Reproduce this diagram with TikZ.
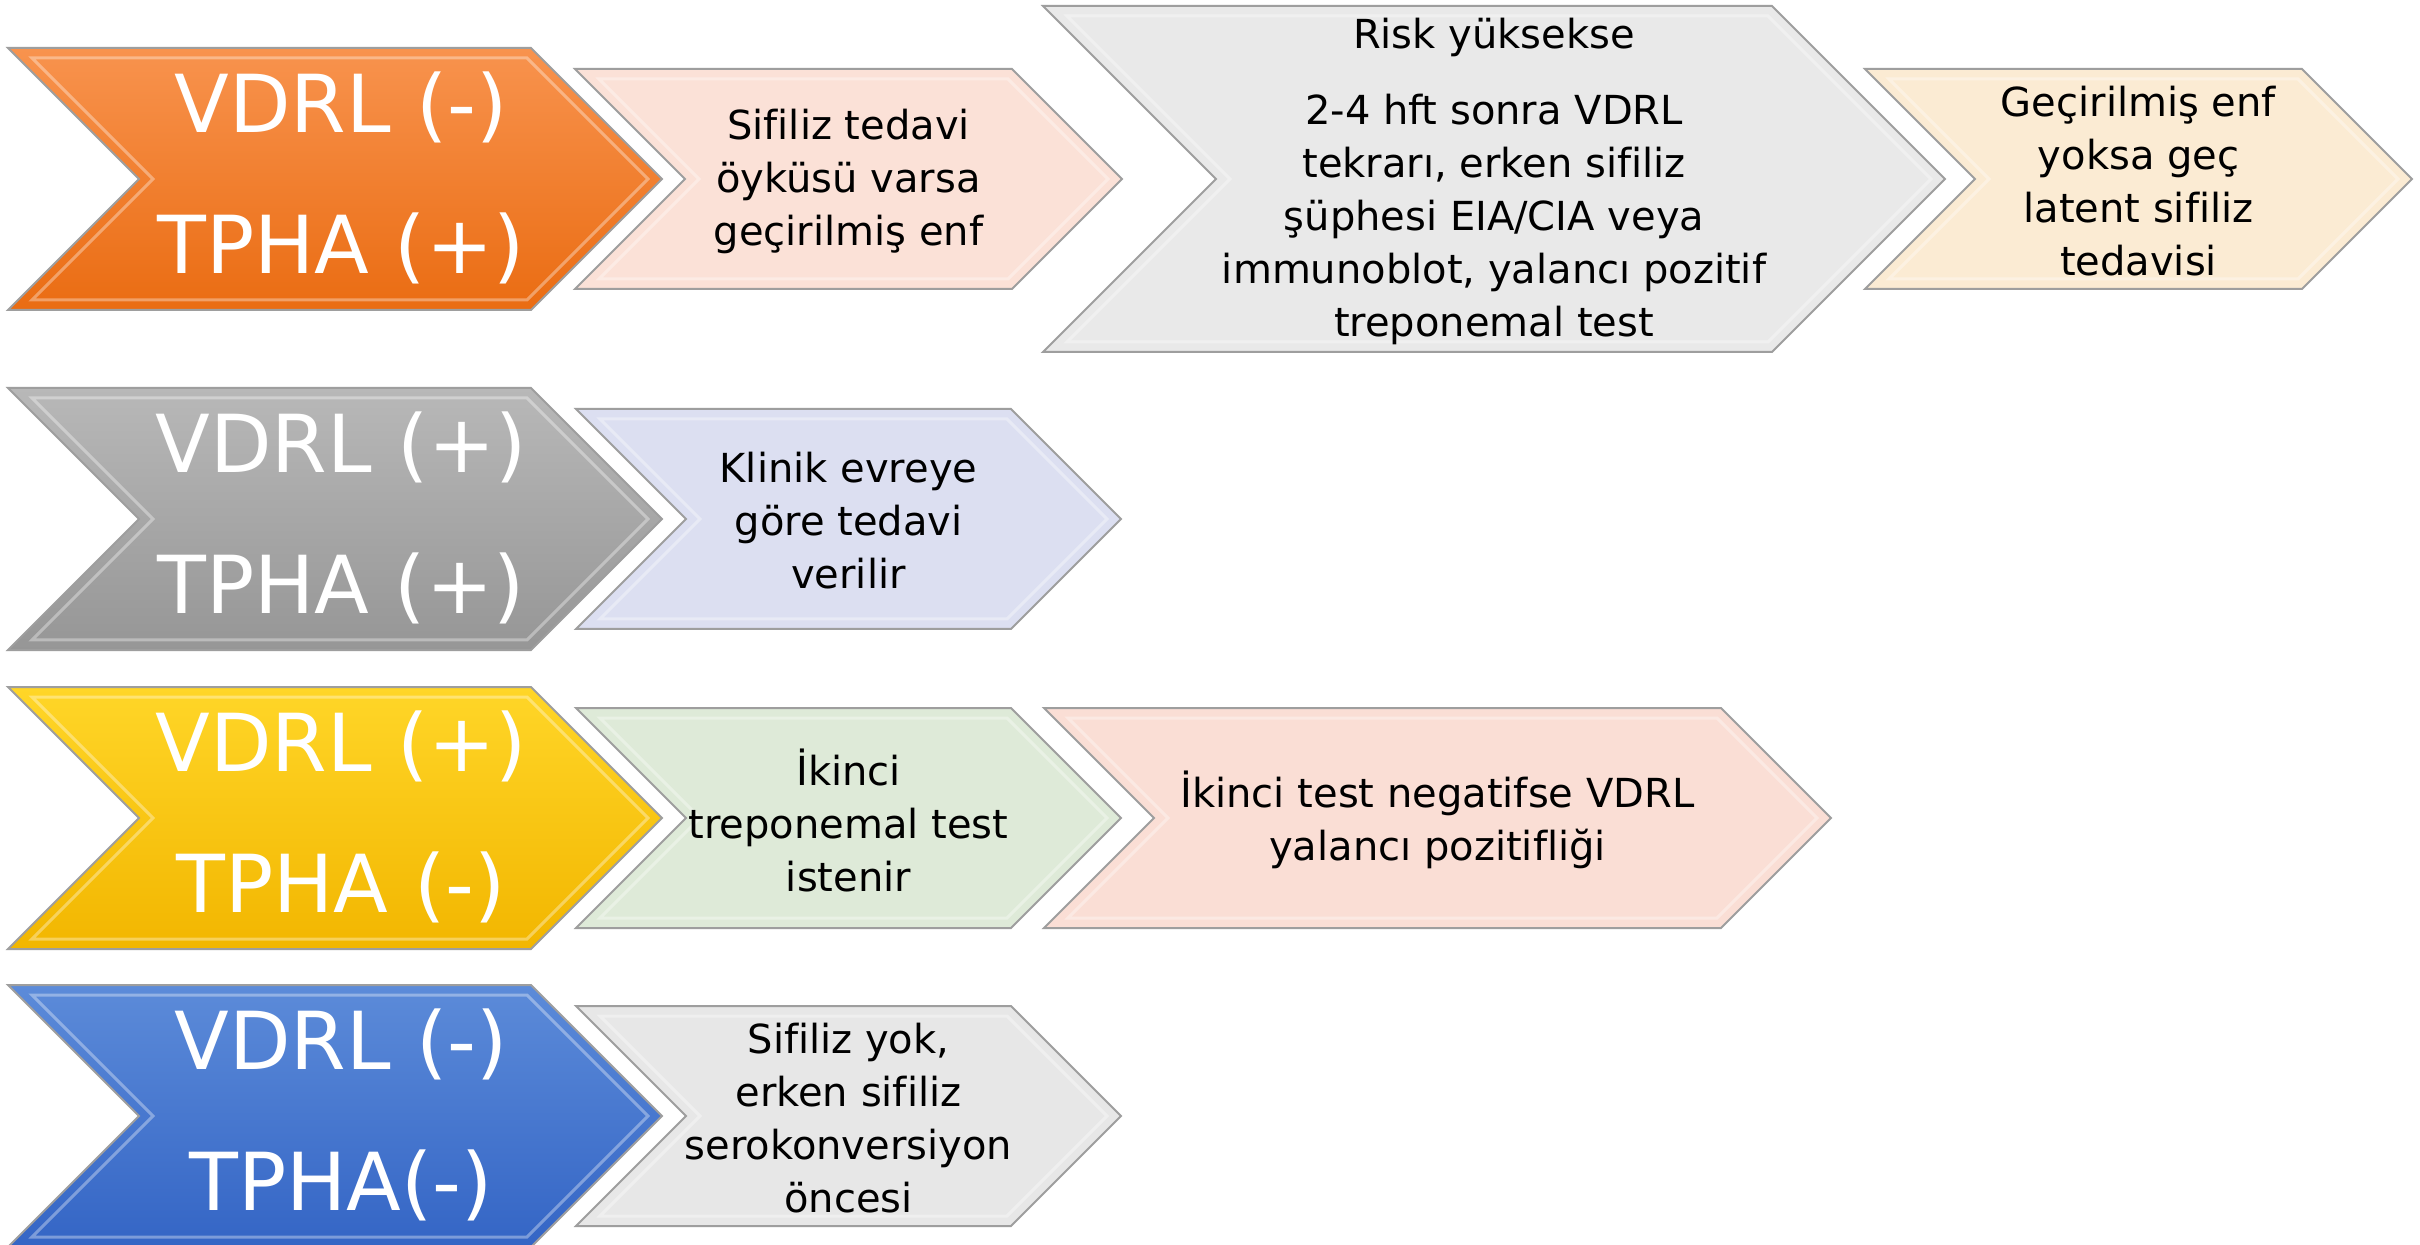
\documentclass[tikz,border=0pt]{standalone}
\usepackage{fontspec}
\setmainfont{DejaVu Sans}[Ligatures={NoCommon}]
\definecolor{orT}{RGB}{248,147,78}
\definecolor{orB}{RGB}{234,108,18}
\definecolor{pinkA}{RGB}{251,225,215}
\definecolor{greyL}{RGB}{233,233,233}
\definecolor{beige}{RGB}{251,235,211}
\definecolor{gdT}{RGB}{184,184,184}
\definecolor{gdB}{RGB}{150,150,150}
\definecolor{lav}{RGB}{220,223,241}
\definecolor{yeT}{RGB}{255,214,40}
\definecolor{yeB}{RGB}{242,182,0}
\definecolor{grn}{RGB}{222,234,216}
\definecolor{pinkB}{RGB}{250,222,213}
\definecolor{blT}{RGB}{92,139,217}
\definecolor{blB}{RGB}{52,101,197}
\definecolor{greyM}{RGB}{231,231,231}
\tikzset{
  bigtxt/.style={text=white, align=center, inner sep=0pt, font=\fontsize{40}{70.5}\selectfont},
  smalltxt/.style={text=black, align=center, inner sep=0pt, font=\fontsize{20}{26.5}\selectfont},
  chevedge/.style={draw=black!38, line width=1pt, line join=miter},
  bevel/.style={draw=white, draw opacity=0.35, line width=1.5pt},
}
% #1 left x, #2 centre y, #3 half height, #4 tip x, #5 fill options
\newcommand{\chevpath}[5]{%
  \path[#5, chevedge] ({#1},{#2-#3}) -- ({#4-#3},{#2-#3}) -- ({#4},{#2}) -- ({#4-#3},{#2+#3}) -- ({#1},{#2+#3}) -- ({#1+#3},{#2}) -- cycle;
  \path[bevel] ({#1+24},{#2-#3+10}) -- ({#4-#3-4},{#2-#3+10}) -- ({#4-14},{#2}) -- ({#4-#3-4},{#2+#3-10}) -- ({#1+24},{#2+#3-10}) -- ({#1+#3+14},{#2}) -- cycle;
}
\begin{document}
\begin{tikzpicture}[x=0.5pt,y=-0.5pt]
\useasboundingbox[fill=white] (0,0) rectangle (2420,1245);
% row 1
\chevpath{8}{179}{131}{662}{top color=orT, bottom color=orB}
\chevpath{575}{179}{110}{1122}{fill=pinkA}
\chevpath{1043}{179}{173}{1945}{fill=greyL}
\chevpath{1865}{179}{110}{2412}{fill=beige}
\node[bigtxt] (r1a) at (341,178) {VDRL (-)\\TPHA (+)};
\node[smalltxt] (r1b) at (848.5,181) {Sifiliz tedavi\\öyküsü varsa\\geçirilmiş enf};
\node[smalltxt] (r1c) at (1494,181) {Risk yüksekse\\[11.5pt]2-4 hft sonra VDRL\\tekrarı, erken sifiliz\\şüphesi EIA/CIA veya\\immunoblot, yalancı pozitif\\treponemal test};
\node[smalltxt] (r1d) at (2138.5,181) {Geçirilmiş enf\\yoksa geç\\latent sifiliz\\tedavisi};
% row 2
\chevpath{8}{519}{131}{662}{top color=gdT, bottom color=gdB}
\chevpath{576}{519}{110}{1121}{fill=lav}
\node[bigtxt] (r2a) at (341,518) {VDRL (+)\\TPHA (+)};
\node[smalltxt] (r2b) at (848.5,521) {Klinik evreye\\göre tedavi\\verilir};
% row 3
\chevpath{8}{818}{131}{662}{top color=yeT, bottom color=yeB}
\chevpath{576}{818}{110}{1121}{fill=grn}
\chevpath{1044}{818}{110}{1831}{fill=pinkB}
\node[bigtxt] (r3a) at (341,817) {VDRL (+)\\TPHA (-)};
\node[smalltxt] (r3b) at (848.5,820) {İkinci\\treponemal test\\istenir};
\node[smalltxt] (r3c) at (1437.5,820) {İkinci test negatifse VDRL\\yalancı pozitifliği};
% row 4
\chevpath{8}{1116}{131}{662}{top color=blT, bottom color=blB}
\chevpath{576}{1116}{110}{1121}{fill=greyM}
\node[bigtxt] (r4a) at (341,1115) {VDRL (-)\\TPHA(-)};
\node[smalltxt] (r4b) at (848.5,1118) {Sifiliz yok,\\erken sifiliz\\serokonversiyon\\öncesi};
\end{tikzpicture}
\end{document}
